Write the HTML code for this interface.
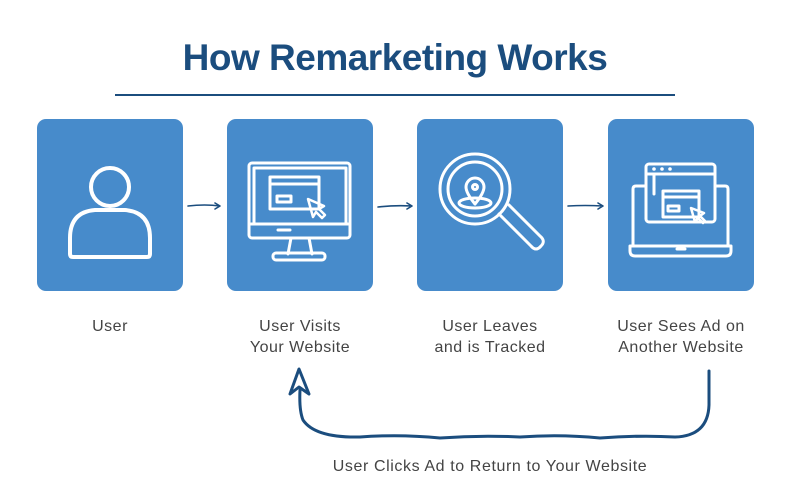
<!DOCTYPE html>
<html><head><style>
body{margin:0;width:790px;height:500px;background:#fff;overflow:hidden;position:relative;font-family:"Liberation Sans",sans-serif}
.t{position:absolute;left:0;width:790px;top:37px;text-align:center;font-size:37px;font-weight:bold;color:#1b4d7e;letter-spacing:-0.5px}
.box{position:absolute;top:119px;width:146px;height:172px;background:#478bcb;border-radius:9px}
.l{position:absolute;width:200px;text-align:center;font-size:16px;line-height:21px;color:#444;top:316px;letter-spacing:0.5px}
</style></head><body>
<div class="t">How Remarketing Works</div>
<div style="position:absolute;left:115px;top:94px;width:560px;height:2px;background:#1b4d7e"></div>
<div class="box" style="left:37px"></div>
<div class="box" style="left:227px"></div>
<div class="box" style="left:417px"></div>
<div class="box" style="left:608px"></div>
<div class="l" style="left:10px">User</div>
<div class="l" style="left:200px">User Visits<br>Your Website</div>
<div class="l" style="left:390px">User Leaves<br>and is Tracked</div>
<div class="l" style="left:581px">User Sees Ad on<br>Another Website</div>
<div style="position:absolute;left:290px;width:400px;top:458px;text-align:center;font-size:16px;color:#444;letter-spacing:0.6px">User Clicks Ad to Return to Your Website</div>
<svg width="790" height="500" style="position:absolute;left:0;top:0" fill="none" stroke-linecap="round" stroke-linejoin="round">
<g stroke="#1b4d7e" stroke-width="1.6">
<path d="M188 206 Q205 204 220 206 M215 203 L220 206 L215 209"/>
<path d="M378 207 Q395 205 412 206 M407 203 L412 206 L407 209"/>
<path d="M568 206 Q585 205 603 206 M598 203 L603 206 L598 209"/>
</g>
<path d="M709 371 L709 405 Q708 436 675 437 Q640 435 600 438 Q560 434 520 437 Q480 435 440 438 Q400 434 360 437 Q315 438 303 420 Q299 410 300 390" stroke="#1b4d7e" stroke-width="3"/>
<path d="M299 369 L290 394 L299 387 L309 394 Z" stroke="#1b4d7e" stroke-width="3"/>
<g stroke="#fff" stroke-width="4">
<circle cx="110" cy="187" r="19"/>
<path d="M70 254 L70 238 Q70 212 95 210 L125 210 Q150 212 150 238 L150 254 Q150 257 147 257 L73 257 Q70 257 70 254Z"/>
</g>
<g stroke="#fff" stroke-width="3">
<rect x="249" y="163" width="101" height="75" rx="3"/>
<path d="M251 224 L348 224 M254 168 L346 168 L346 224 M254 168 L254 224"/>
<rect x="270" y="177" width="49" height="32"/>
<path d="M270 184 L319 184"/>
<rect x="277" y="196" width="14" height="6"/>
<path d="M278 230 L290 230"/>
<path d="M291 238 L288 254 M309 238 L312 254"/>
<rect x="273" y="253" width="52" height="7" rx="3"/>
<path d="M308 199 L313 217 L316 212 L322 218 L325 215 L319 209 L324 206 Z" stroke-width="2.5"/>
<circle cx="475" cy="189" r="35"/>
<circle cx="475" cy="189" r="27"/>
<path d="M499 214 L531 246 Q536 252 541 246 Q546 241 540 236 L509 205"/>
<path d="M475 204 Q466 193 466 187 A9 9 0 0 1 484 187 Q484 193 475 204 Z"/>
<circle cx="475" cy="187" r="2.5"/>
<ellipse cx="475" cy="203" rx="16" ry="5"/>
<rect x="646" y="164" width="69" height="58" rx="3"/>
<path d="M646 174 L715 174 M654 174 L654 194"/>
<path d="M646 186 L636 186 Q633 186 633 189 L633 246 M715 186 L725 186 Q728 186 728 189 L728 246"/>
<path d="M630 246 L731 246 L731 251 Q731 256 726 256 L635 256 Q630 256 630 251 Z"/>
<path d="M677 249 L685 249"/>
<rect x="663" y="191" width="36" height="26"/>
<path d="M663 197 L699 197"/>
<rect x="668" y="206" width="11" height="5"/>
<path d="M691 208 L695 222 L698 218 L703 223 L705 221 L700 216 L704 213 Z" stroke-width="2.5"/>
</g>
<g fill="#fff"><circle cx="654" cy="169" r="1.8"/><circle cx="662" cy="169" r="1.8"/><circle cx="670" cy="169" r="1.8"/></g>
</svg>
</body></html>
